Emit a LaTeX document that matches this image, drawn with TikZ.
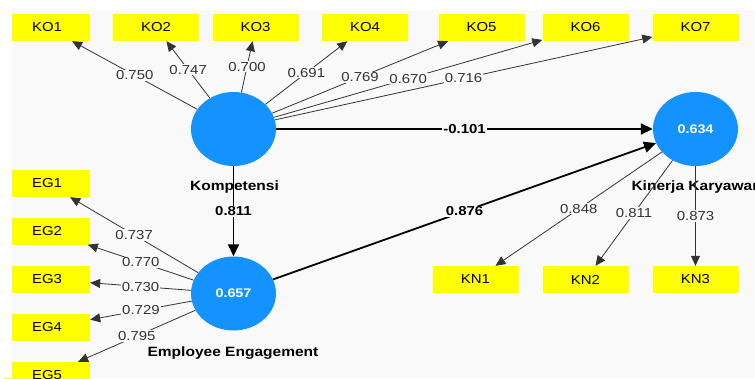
\documentclass[tikz,border=0pt]{standalone}
\usepackage{fontspec}
\setmainfont{Liberation Sans}[FakeStretch=1.15]
\usetikzlibrary{arrows.meta,shapes.geometric}

\definecolor{lvblue}{RGB}{20,146,255}
\definecolor{mvyellow}{RGB}{255,255,0}
\definecolor{canvas}{RGB}{249,249,249}

\tikzset{
  latent/.style={ellipse,fill=lvblue,minimum width=85pt,minimum height=74pt,
                 inner sep=0pt,text=white,font=\bfseries\fontsize{12.5}{14}\selectfont},
  indicator/.style={rectangle,fill=mvyellow,minimum width=86pt,minimum height=27pt,
                    inner sep=0pt,font=\fontsize{13}{15}\selectfont},
  load/.style={fill=canvas,inner sep=1pt,text=black!80,font=\fontsize{13}{15}\selectfont},
  coef/.style={fill=canvas,inner sep=1pt,text=black,font=\bfseries\fontsize{13}{15}\selectfont},
  lvname/.style={font=\bfseries\fontsize{13.5}{15}\selectfont},
  structural/.style={draw=black,line width=1.8pt,-{Triangle[length=12pt,width=11pt]}}
}

\begin{document}
\begin{tikzpicture}[->,>={Triangle[length=10pt,width=9pt]},x=1pt,y=-1pt,
                    every edge/.style={draw=black!80,line width=0.8pt}]
  \useasboundingbox (0,0) rectangle (755,378);
  \clip (0,0) rectangle (755,378);
  \fill[white,-] (0,0) rectangle (755,378);
  \fill[canvas,-] (12,10) rectangle (755,378);

  % construct names sit under the paths
  \node[lvname]             (lK)  at (234.5,187) {Kompetensi};
  \node[lvname,anchor=west] (lKK) at (628,187)   {Kinerja Karyawan};
  \node[lvname]             (lEE) at (233,353)   {Employee Engagement};

  \node[latent]    (K)   at (233.5,129)   {};
  \node[latent]    (KK)  at (695.5,129)   {0.634};
  \node[latent]    (EE)  at (233.5,293.5) {0.657};

  \node[indicator] (KO1) at (47,27.5)    {KO1};
  \node[indicator] (KO2) at (156,27.5)   {KO2};
  \node[indicator] (KO3) at (255.5,27.5) {KO3};
  \node[indicator] (KO4) at (365,27.5)   {KO4};
  \node[indicator] (KO5) at (481.5,27.5) {KO5};
  \node[indicator] (KO6) at (585.5,27.5) {KO6};
  \node[indicator] (KO7) at (695.5,27.5) {KO7};

  \node[indicator] (EG1) at (47,183.5)   {EG1};
  \node[indicator] (EG2) at (47,231)     {EG2};
  \node[indicator] (EG3) at (47,279.5)   {EG3};
  \node[indicator] (EG4) at (47,327.5)   {EG4};
  \node[indicator] (EG5) at (47,375.5)   {EG5};

  \node[indicator] (KN1) at (475.5,279.5) {KN1};
  \node[indicator] (KN2) at (585.5,279.5) {KN2};
  \node[indicator] (KN3) at (695.5,279.5) {KN3};

  \path (K)  edge             node[load] {0.750}  (KO1);
  \path (K)  edge             node[load] {0.747}  (KO2);
  \path (K)  edge             node[load] {0.700}  (KO3);
  \path (K)  edge             node[load] {0.691}  (KO4);
  \path (K)  edge             node[load] {0.769}  (KO5);
  \path (K)  edge             node[load] {0.670}  (KO6);
  \path (K)  edge             node[load] {0.716}  (KO7);

  \path (EE) edge             node[load] {0.737}  (EG1);
  \path (EE) edge             node[load] {0.770}  (EG2);
  \path (EE) edge             node[load] {0.730}  (EG3);
  \path (EE) edge             node[load] {0.729}  (EG4);
  \path (EE) edge             node[load] {0.795}  (EG5);

  \path (KK) edge             node[load] {0.848}  (KN1);
  \path (KK) edge             node[load] {0.811}  (KN2);
  \path (KK) edge             node[load] {0.873}  (KN3);

  \path (K)  edge[structural] node[coef] {-0.101} (KK);
  \path (K)  edge[structural] node[coef] {0.811}  (EE);
  \path (EE) edge[structural] node[coef] {0.876}  (KK);

  \fill[white,-] (0,0) rectangle (12,378);
\end{tikzpicture}
\end{document}
